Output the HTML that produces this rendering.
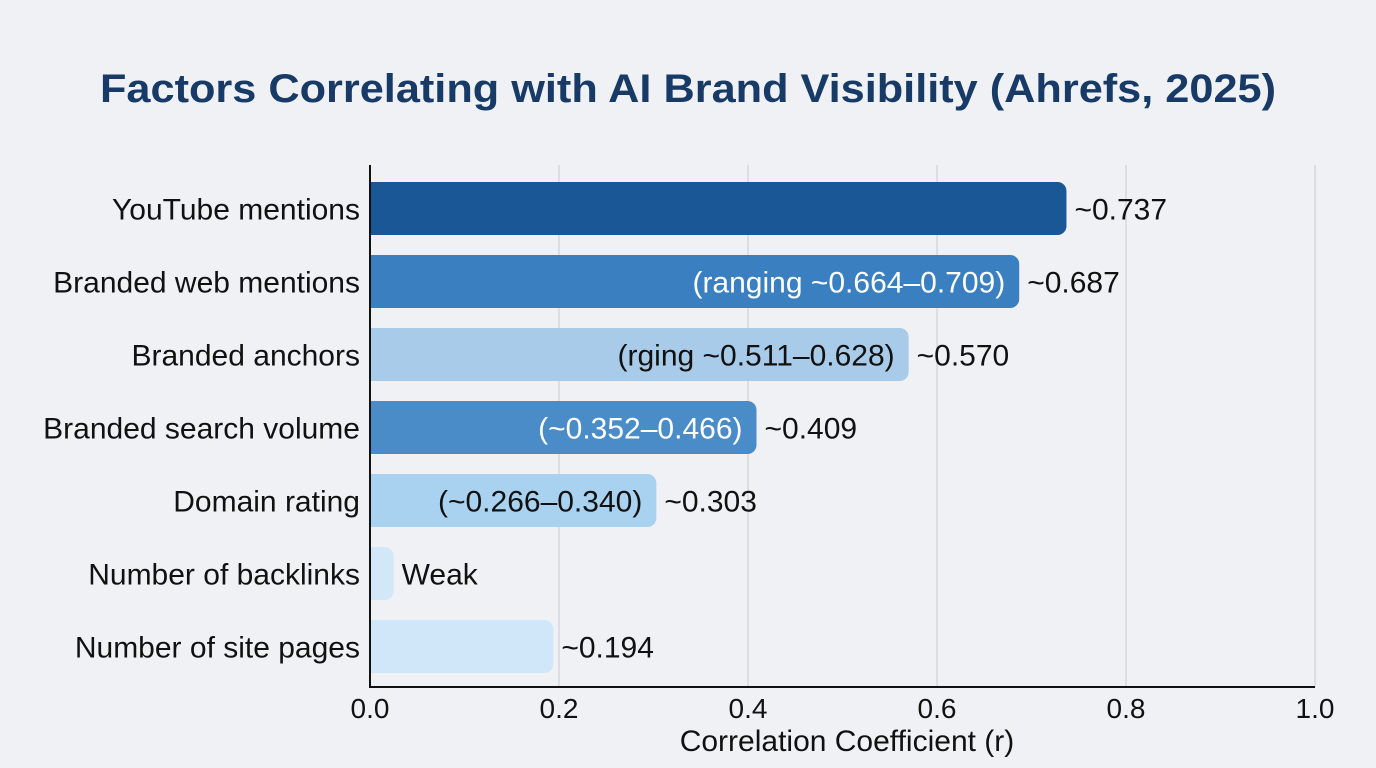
<!DOCTYPE html>
<html><head><meta charset="utf-8">
<style>
html,body{margin:0;padding:0;background:#eff1f4;}
svg{display:block;font-family:"Liberation Sans",sans-serif;}
</style></head>
<body>
<svg id="chart" width="1376" height="768" viewBox="0 0 1376 768">
<defs><clipPath id="plotclip"><rect x="370" y="150" width="1000" height="560"/></clipPath></defs>
<rect width="1376" height="768" fill="#eff1f4"/>
<text x="688" y="102" text-anchor="middle" font-size="40" font-weight="bold" fill="#173a66" textLength="1176" lengthAdjust="spacingAndGlyphs">Factors Correlating with AI Brand Visibility (Ahrefs, 2025)</text>
<g id="grid"></g>
<g id="bars" clip-path="url(#plotclip)"></g>
<g id="axes"></g>
<text x="847" y="751" text-anchor="middle" font-size="30" fill="#111">Correlation Coefficient (r)</text>
</svg>
<script>
const categories = ["YouTube mentions","Branded web mentions","Branded anchors","Branded search volume","Domain rating","Number of backlinks","Number of site pages"];
const values = [0.737,0.687,0.570,0.409,0.303,0.025,0.194];
const valueLabels = ["~0.737","~0.687","~0.570","~0.409","~0.303","Weak","~0.194"];
const rangeLabels = ["","(ranging ~0.664\u20130.709)","(rging ~0.511\u20130.628)","(~0.352\u20130.466)","(~0.266\u20130.340)","",""];
const barColors = ["#1a5796","#3a80c0","#a8cbea","#4a8cc8","#a9d1f0","#d2e8f8","#d0e7f9"];
const rangeColors = ["#fff","#fff","#111","#fff","#111","#111","#111"];
const ticks = [0,0.2,0.4,0.6,0.8,1.0];
const tickLabels = ["0.0","0.2","0.4","0.6","0.8","1.0"];

const NS="http://www.w3.org/2000/svg";
const x0=370, x1=1315, top0=172, step=73, barH=53, axisY=687;
const xs=v=>x0+(x1-x0)*v;
const yc=i=>top0+step*i+step/2;
function mk(tag,attrs,parent,text){const e=document.createElementNS(NS,tag);for(const k in attrs)e.setAttribute(k,attrs[k]);if(text!==undefined)e.textContent=text;parent.appendChild(e);return e;}
const grid=document.getElementById('grid'),bars=document.getElementById('bars'),axes=document.getElementById('axes');
ticks.forEach((t,i)=>{
  if(t>0){const g=mk('line',{x1:xs(t),x2:xs(t),y1:165,y2:axisY,stroke:'#cfd2d6','stroke-width':1.2},grid);
  
  }
  const tl=mk('text',{x:xs(t),y:718,'text-anchor':'middle','font-size':28,fill:'#111'},axes,tickLabels[i]);
  
  
});
categories.forEach((c,i)=>{
  const y=yc(i);
  const r=mk('rect',{x:x0-10,y:y-barH/2,width:xs(values[i])-x0+10,height:barH,rx:9,fill:barColors[i]},bars);
  
  
  const cl=mk('text',{x:360,y:y+11,'text-anchor':'end','font-size':30,fill:'#111'},axes,c);
  
  
  const vl=mk('text',{x:xs(values[i])+8,y:y+11,'font-size':30,fill:'#111'},axes,valueLabels[i]);
  
  
  if(rangeLabels[i]){
    const rl=mk('text',{x:xs(values[i])-14,y:y+11,'text-anchor':'end','font-size':30,fill:rangeColors[i]},axes,rangeLabels[i]);
    
    
  }
});
const ya=mk('line',{x1:x0,x2:x0,y1:165,y2:axisY+1,stroke:'#111','stroke-width':2},axes);


const xa=mk('line',{x1:x0-1,x2:x1,y1:axisY,y2:axisY,stroke:'#111','stroke-width':2},axes);


</script>
</body></html>
